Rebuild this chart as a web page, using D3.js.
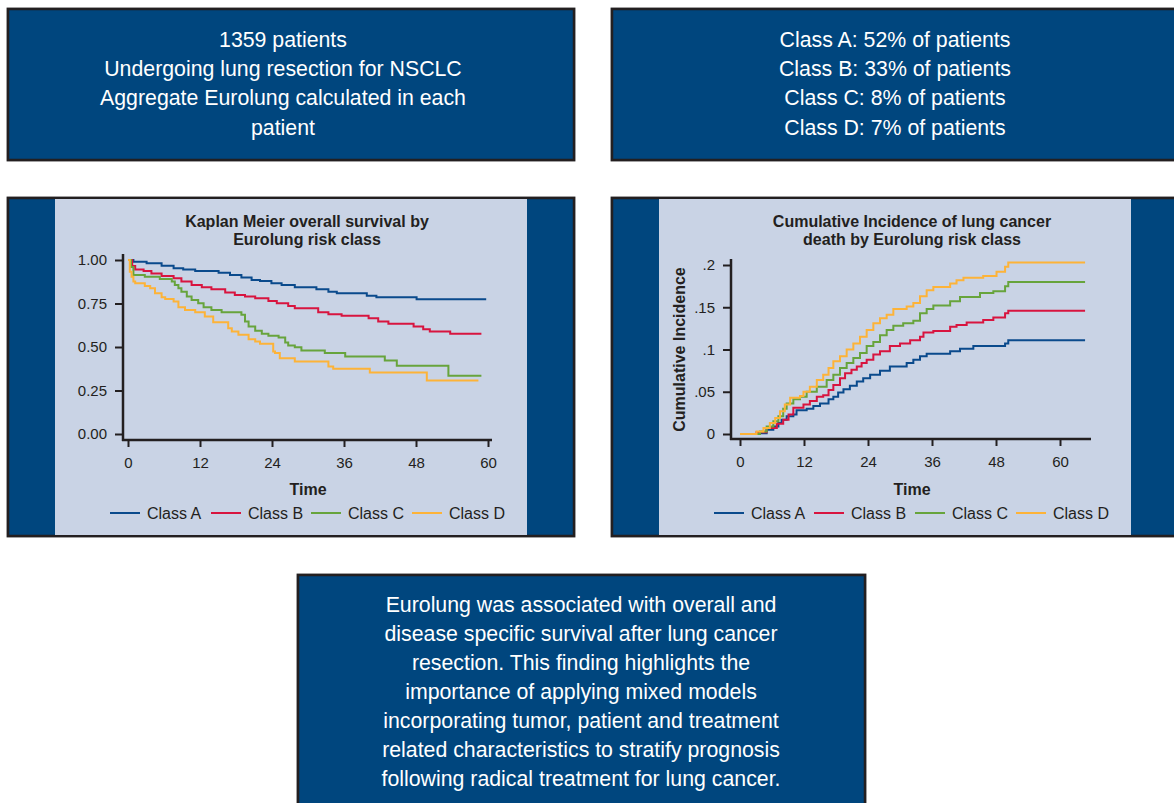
<!DOCTYPE html>
<html>
<head>
<meta charset="utf-8">
<script src="https://cdn.jsdelivr.net/npm/d3@7"></script>
<style>
  html, body { margin: 0; padding: 0; background: #ffffff; }
  svg { display: block; font-family: "Liberation Sans", Arial, Helvetica, sans-serif; }
</style>
</head>
<body>
<svg id="chart" width="1174" height="803"></svg>
<script>
// ---- Data -------------------------------------------------------------
const classNames = ["Class A", "Class B", "Class C", "Class D"];
const classColors = ["#0a4a8c", "#d8143f", "#67a43c", "#fdb338"];

// Kaplan-Meier overall survival: [month, survival] step points
const kmClassA = [[0,1],[0.9,0.99],[3.1,0.981],[5.6,0.967],[7.6,0.952],[9.2,0.946],[11.2,0.937],[15.1,0.927],[17,0.914],[18.9,0.9],[20.6,0.885],[22,0.88],[23.9,0.866],[25.6,0.857],[27.8,0.843],[31.4,0.832],[33.4,0.818],[34.8,0.809],[39.8,0.794],[41.4,0.786],[48.1,0.774],[59.7,0.774]];
const kmClassB = [[0,1],[0.7,0.966],[1.2,0.946],[2.6,0.937],[3.9,0.923],[5.6,0.908],[7.6,0.895],[8.9,0.876],[10.6,0.857],[12.3,0.843],[13.9,0.832],[16.2,0.813],[17.8,0.799],[19.5,0.79],[21.2,0.78],[23.4,0.765],[24.8,0.751],[26.7,0.736],[27.8,0.723],[31.7,0.7],[33.4,0.688],[35.6,0.679],[40.1,0.665],[41.7,0.646],[43.4,0.633],[47.6,0.618],[49.2,0.602],[50.3,0.589],[53.7,0.576],[58.9,0.576]];
const kmClassC = [[0,1],[0.5,0.96],[0.9,0.914],[2.8,0.904],[5.3,0.891],[7.3,0.876],[7.8,0.857],[8.4,0.837],[8.9,0.818],[9.8,0.79],[10.6,0.77],[11.7,0.751],[12.6,0.728],[13.9,0.713],[15.6,0.7],[18.9,0.685],[19.5,0.646],[20.1,0.618],[21.2,0.593],[22.3,0.576],[23.4,0.564],[25.1,0.555],[26.2,0.526],[26.7,0.509],[27.8,0.499],[28.9,0.48],[32.8,0.465],[36.2,0.446],[42.8,0.423],[44.8,0.392],[53.4,0.335],[58.9,0.335]];
const kmClassD = [[0,1],[0.3,0.933],[0.6,0.904],[0.9,0.876],[1.2,0.866],[2.8,0.851],[3.7,0.837],[4.5,0.809],[5.6,0.786],[6.2,0.776],[7.6,0.761],[8.4,0.728],[9.5,0.713],[11.2,0.7],[12.8,0.675],[14.2,0.642],[16.7,0.608],[17.3,0.589],[18.4,0.57],[20.1,0.545],[21.2,0.532],[22,0.518],[24.2,0.474],[24.5,0.465],[25.3,0.436],[27.8,0.417],[33.4,0.388],[34.2,0.375],[40.3,0.354],[49.8,0.308],[58.4,0.308]];

// Cumulative incidence of lung cancer death: [month, incidence] step points
const ciClassA = [[0,0],[3.4,0],[3.75,0.001],[5,0.005],[6.25,0.009],[7.2,0.013],[7.8,0.017],[8.75,0.021],[10,0.023],[10.6,0.028],[12.5,0.03],[13.75,0.033],[15,0.036],[16.6,0.041],[17.5,0.044],[18.4,0.049],[19.4,0.053],[20.6,0.057],[21.9,0.062],[23.1,0.066],[24.4,0.07],[26.25,0.075],[28.1,0.08],[31.25,0.084],[32.5,0.088],[33.75,0.092],[35,0.095],[39.4,0.098],[41.25,0.101],[43.75,0.104],[49.7,0.107],[50.3,0.111],[64.7,0.111]];
const ciClassB = [[0,0],[3.1,0.002],[5,0.007],[6.9,0.012],[8.1,0.017],[9.1,0.023],[10,0.031],[11.9,0.035],[13.1,0.039],[14.4,0.044],[15.6,0.046],[16.6,0.052],[17.5,0.058],[18.75,0.066],[19.7,0.072],[20.9,0.076],[21.9,0.08],[22.8,0.084],[23.75,0.088],[25,0.094],[26.25,0.098],[28.1,0.104],[30,0.107],[31.9,0.111],[33.75,0.115],[34.4,0.12],[36.25,0.122],[39.4,0.127],[40.6,0.129],[42.5,0.132],[45.6,0.135],[47.5,0.138],[49.7,0.143],[50.3,0.146],[64.7,0.146]];
const ciClassC = [[0,0],[3.75,0.003],[5,0.009],[6.25,0.015],[7.2,0.021],[8.1,0.03],[8.75,0.036],[10,0.041],[11.25,0.044],[12.5,0.05],[14.4,0.056],[16.25,0.064],[17.5,0.07],[18.75,0.078],[20,0.084],[21.25,0.09],[22.5,0.096],[23.75,0.104],[25,0.109],[26.25,0.117],[27.5,0.123],[28.75,0.128],[30.6,0.131],[32.5,0.134],[33.75,0.143],[35,0.148],[36.25,0.152],[39.4,0.157],[41.25,0.162],[45,0.167],[47.5,0.169],[49.7,0.175],[50.3,0.18],[64.7,0.18]];
const ciClassD = [[0,0],[3.1,0.003],[4.4,0.007],[5.6,0.013],[6.6,0.019],[7.5,0.027],[8.4,0.035],[9.4,0.043],[11.25,0.045],[11.9,0.05],[13.1,0.056],[14.4,0.064],[15.6,0.07],[16.6,0.078],[17.5,0.086],[18.75,0.092],[20,0.1],[21.25,0.107],[22.5,0.115],[23.75,0.123],[25,0.131],[26.25,0.137],[27.5,0.141],[28.75,0.148],[31.25,0.151],[32.5,0.155],[33.75,0.163],[35,0.17],[36.25,0.174],[39.4,0.178],[40.6,0.182],[41.9,0.185],[45.6,0.187],[48.1,0.192],[49.7,0.198],[50.3,0.203],[64.7,0.203]];

const timeTicks = [0, 12, 24, 36, 48, 60];
const kmTicks = [0, 0.25, 0.5, 0.75, 1];
const ciTicks = [0, 0.05, 0.1, 0.15, 0.2];
const ciTickLabels = ["0", ".05", ".1", ".15", ".2"];

const summaryLines = ["1359 patients", "Undergoing lung resection for NSCLC", "Aggregate Eurolung calculated in each", "patient"];
const classShareLines = ["Class A: 52% of patients", "Class B: 33% of patients", "Class C: 8% of patients", "Class D: 7% of patients"];
const conclusionLines = [
  "Eurolung was associated with overall and",
  "disease specific survival after lung cancer",
  "resection. This finding highlights the",
  "importance of applying mixed models",
  "incorporating tumor, patient and treatment",
  "related characteristics to stratify prognosis",
  "following radical treatment for lung cancer."
];

// ---- Drawing ----------------------------------------------------------
const NAVY = "#00467e";
const PANEL = "#c9d3e5";
const INK = "#231f20";
const BOX_FONT = 21.3;
const CHART_FONT = 16;
const TICK_FONT = 15;

const svg = d3.select("#chart");

function box(x, y, w, h) {
  svg.append("rect").attr("x", x - 1).attr("y", y - 1).attr("width", w + 2).attr("height", h + 2)
    .attr("fill", "none").attr("stroke", "#9a9a9a").attr("stroke-width", 1);
  svg.append("rect").attr("x", x).attr("y", y).attr("width", w).attr("height", h)
    .attr("fill", NAVY).attr("stroke", INK).attr("stroke-width", 2.5);
}

function textBlock(lines, cx, y0, step) {
  svg.append("g").selectAll("text").data(lines).join("text")
    .attr("x", cx).attr("y", (d, i) => y0 + i * step)
    .attr("text-anchor", "middle").attr("dominant-baseline", "central")
    .attr("fill", "#ffffff").attr("font-size", BOX_FONT)
    .text(d => d);
}

// Text boxes
box(8, 9, 566, 151);
textBlock(summaryLines, 283, 40, 29.2);
box(612, 9, 566, 151);
textBlock(classShareLines, 895, 40, 29.2);
box(298, 575, 567, 232);
textBlock(conclusionLines, 581, 605, 29);

// Chart frames
box(8, 198, 566, 338);
svg.append("rect").attr("x", 55).attr("y", 199).attr("width", 472).attr("height", 336).attr("fill", PANEL);
box(612, 198, 566, 338);
svg.append("rect").attr("x", 659).attr("y", 199).attr("width", 472).attr("height", 336).attr("fill", PANEL);

function chart(opts) {
  const g = svg.append("g");
  const x = d3.scaleLinear().domain([0, 60]).range([opts.x0, opts.x60]);
  const y = d3.scaleLinear().domain(opts.yDomain).range([opts.yBottom, opts.yTop]);

  // title
  g.append("g").selectAll("text").data(opts.title).join("text")
    .attr("x", opts.titleX).attr("y", (d, i) => 221 + i * 18.5)
    .attr("text-anchor", "middle").attr("dominant-baseline", "central")
    .attr("font-weight", "bold").attr("font-size", CHART_FONT).attr("fill", INK)
    .text(d => d);

  // curves
  const line = d3.line().x(d => x(d[0])).y(d => y(d[1])).curve(d3.curveStepAfter);
  g.append("g").selectAll("path").data(opts.series).join("path")
    .attr("d", line).attr("fill", "none")
    .attr("stroke", (d, i) => classColors[i]).attr("stroke-width", 2);

  // y axis
  const yAxis = d3.axisLeft(y).tickValues(opts.yTicks).tickSize(8).tickSizeOuter(0)
    .tickFormat((d, i) => opts.yLabels[i]);
  const ya = g.append("g").attr("transform", `translate(${opts.axisX},0)`).call(yAxis);
  ya.select(".domain").remove();
  ya.selectAll(".tick line").attr("stroke", INK).attr("stroke-width", 2);
  ya.selectAll(".tick text").attr("x", -16).attr("font-size", TICK_FONT).attr("fill", INK)
    .attr("font-family", "Liberation Sans, Arial, sans-serif");
  g.append("line").attr("x1", opts.axisX).attr("x2", opts.axisX)
    .attr("y1", opts.yTop - 6).attr("y2", opts.axisY + 1)
    .attr("stroke", INK).attr("stroke-width", 2.5);

  // x axis
  const xAxis = d3.axisBottom(x).tickValues(timeTicks).tickSize(7).tickSizeOuter(0);
  const xa = g.append("g").attr("transform", `translate(0,${opts.axisY})`).call(xAxis);
  xa.select(".domain").remove();
  xa.selectAll(".tick line").attr("stroke", INK).attr("stroke-width", 2);
  xa.selectAll(".tick text").attr("y", 17).attr("font-size", TICK_FONT).attr("fill", INK)
    .attr("font-family", "Liberation Sans, Arial, sans-serif");
  g.append("line").attr("x1", opts.axisX - 1).attr("x2", opts.xEnd)
    .attr("y1", opts.axisY).attr("y2", opts.axisY)
    .attr("stroke", INK).attr("stroke-width", 2.5);

  g.append("text").attr("x", (opts.x0 + opts.x60) / 2 + opts.timeShift).attr("y", 489)
    .attr("text-anchor", "middle").attr("dominant-baseline", "central")
    .attr("font-weight", "bold").attr("font-size", CHART_FONT).attr("fill", INK).text("Time");

  if (opts.yTitle) {
    g.append("text").attr("transform", `translate(${opts.yTitleX},${(opts.yTop + opts.yBottom) / 2}) rotate(-90)`)
      .attr("text-anchor", "middle").attr("dominant-baseline", "central")
      .attr("font-weight", "bold").attr("font-size", CHART_FONT).attr("fill", INK).text(opts.yTitle);
  }

  // legend
  const lg = g.append("g").selectAll("g").data(classNames).join("g")
    .attr("transform", (d, i) => `translate(${opts.legendX[i]},513)`);
  lg.append("line").attr("x1", 0).attr("x2", 30).attr("y1", 0).attr("y2", 0)
    .attr("stroke", (d, i) => classColors[i]).attr("stroke-width", 2);
  lg.append("text").attr("x", 37).attr("y", 0).attr("dominant-baseline", "central")
    .attr("font-size", CHART_FONT).attr("fill", INK).text(d => d);
}

chart({
  title: ["Kaplan Meier overall survival by", "Eurolung risk class"],
  titleX: 307,
  series: [kmClassA, kmClassB, kmClassC, kmClassD],
  x0: 128, x60: 488, xEnd: 492,
  yDomain: [0, 1], yBottom: 434, yTop: 260,
  yTicks: kmTicks, yLabels: kmTicks.map(d3.format(".2f")),
  axisX: 123, axisY: 440, timeShift: 0,
  legendX: [110, 211, 311, 412]
});

chart({
  title: ["Cumulative Incidence of lung cancer", "death by Eurolung risk class"],
  titleX: 912,
  series: [ciClassA, ciClassB, ciClassC, ciClassD],
  x0: 740, x60: 1060, xEnd: 1091,
  yDomain: [0, 0.2], yBottom: 434, yTop: 265,
  yTicks: ciTicks, yLabels: ciTickLabels,
  axisX: 731, axisY: 439, timeShift: 12,
  yTitle: "Cumulative Incidence", yTitleX: 679,
  legendX: [714, 814, 915, 1016]
});
</script>
</body>
</html>
